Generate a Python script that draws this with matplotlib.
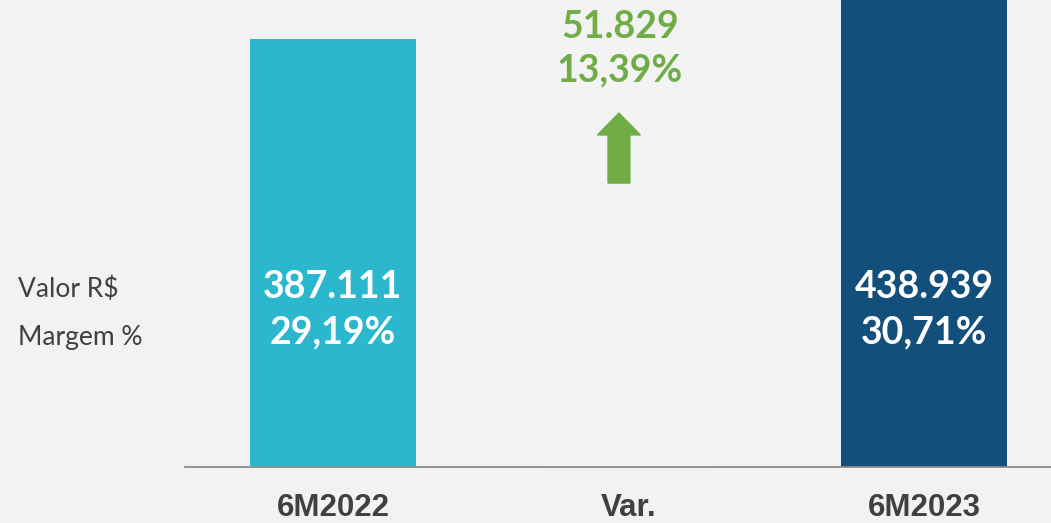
import matplotlib
matplotlib.use("Agg")
import matplotlib.pyplot as plt
from matplotlib.patches import FancyArrow
from matplotlib.transforms import blended_transform_factory

categories = ["6M2022", "Var.", "6M2023"]
values = [387111, 51829, 438939]
margins = ["29,19%", "13,39%", "30,71%"]
value_labels = ["387.111", "51.829", "438.939"]
row_labels = ["Valor R$", "Margem %"]

bg = "#f2f2f2"
c_light = "#2bb8cf"
c_dark = "#134f7b"
c_green = "#70ad47"
c_text = "#404040"

fig = plt.figure(figsize=(10.51, 5.23), dpi=100, facecolor=bg)
ax = fig.add_axes([185 / 1051, 56 / 523, 866 / 1051, 467 / 523])
ax.set_facecolor(bg)

x = list(range(len(categories)))
w = 0.561
# invisible base for variation (waterfall)
ax.bar(x[1], values[0], width=w, color="#f3f3f3", zorder=1)
ax.bar(x[1], values[1], bottom=values[0], width=w, color=bg, zorder=1)
ax.bar(x[0], values[0], width=w, color=c_light, zorder=2)
ax.bar(x[2], values[2], width=w, color=c_dark, zorder=2)

ymax = values[0] * 467 / 428
ax.set_ylim(0, ymax)
ax.set_xlim(-0.5004, 2.428)

for s in ["top", "right", "left"]:
    ax.spines[s].set_visible(False)
ax.spines["bottom"].set_color("#8c8c8c")
ax.spines["bottom"].set_linewidth(1.3)
ax.set_yticks([])
ax.set_xticks(x)
ax.set_xticklabels(categories, fontsize=22.5, fontweight="bold", color=c_text,
                   family=["Liberation Sans Narrow", "Liberation Sans", "DejaVu Sans"])
ax.tick_params(axis="x", length=0, pad=19)

tr = blended_transform_factory(ax.transData, ax.transAxes)
for i in (0, 2):
    ax.text(x[i], 0.385, value_labels[i], transform=tr, ha="center", va="center",
            color="white", fontsize=27, fontweight="bold", family="Lato", zorder=3)
    ax.text(x[i], 0.287, margins[i], transform=tr, ha="center", va="center",
            color="white", fontsize=27, fontweight="bold", family="Lato", zorder=3)

ax.text(x[1] - 0.03, 0.942, value_labels[1], transform=tr, ha="center", va="center",
        color=c_green, fontsize=27, fontweight="bold", family="Lato", zorder=3)
ax.text(x[1] - 0.03, 0.850, margins[1], transform=tr, ha="center", va="center",
        color=c_green, fontsize=27, fontweight="bold", family="Lato", zorder=3)

arrow = FancyArrow(x[1] - 0.033, 0.608, 0, 0.150, width=0.074, head_width=0.145,
                   head_length=0.047, length_includes_head=True, transform=tr,
                   color=c_green, zorder=3)
ax.add_patch(arrow)

fig.text(18 / 1051, (523 - 289) / 523, row_labels[0], ha="left", va="center",
         fontsize=19, color=c_text, family="Lato")
fig.text(18 / 1051, (523 - 338) / 523, row_labels[1], ha="left", va="center",
         fontsize=19, color=c_text, family="Lato")

fig.savefig("out.png", dpi=100, facecolor=bg)
